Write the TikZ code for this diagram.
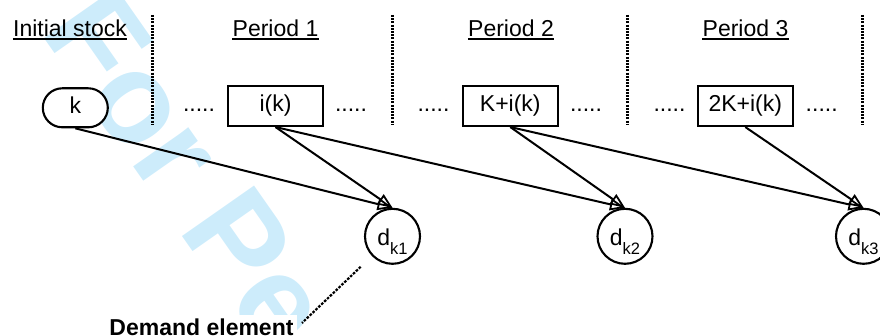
\documentclass[tikz,border=0pt]{standalone}
\usepackage{fontspec}
\setmainfont{Liberation Sans}
\usetikzlibrary{arrows.meta,shapes.misc}
\definecolor{wm}{RGB}{205,236,251}
\begin{document}
\begin{tikzpicture}[x=1pt,y=1pt,
  base/.style={font=\fontsize{23}{27}\selectfont},
  head/.style={base, inner sep=0pt, anchor=base},
  box/.style={base, draw, line width=2.1pt, fill=white, minimum width=95pt, minimum height=40pt, inner sep=0pt, text height=17pt, text depth=5pt},
  stock/.style={base, draw, rounded rectangle, line width=2.1pt, fill=white, minimum width=65pt, minimum height=39pt, inner sep=0pt, text height=17pt, text depth=5pt},
  dem/.style={base, draw, circle, line width=2.1pt, fill=white, minimum size=55pt, inner sep=0pt, text height=22pt, text depth=4pt},
  dots/.style={base, inner sep=0pt, anchor=base},
  sepline/.style={line width=3pt, dash pattern=on 2pt off 1.2pt},
  uline/.style={line width=1.6pt},
  arr/.style={line width=2pt, -{Triangle[open, length=15pt, width=12pt, line width=1.8pt]}},
  note/.style={line width=2.2pt, dash pattern=on 2.6pt off 1.4pt}
]
\useasboundingbox (0,0) rectangle (880,-336);
\begin{scope}
\clip (0,0) rectangle (880,-336);
\node[rotate=-55, anchor=base west, inner sep=0pt, text=wm, font=\fontsize{128}{128}\selectfont\bfseries] (wmark) at (39,-31) {For Pe};
\end{scope}

% headings
\node[head] (h0) at (70,-36.5) {Initial stock};
\node[head] (h1) at (275.5,-36.5) {Period 1};
\node[head] (h2) at (511,-36.5) {Period 2};
\node[head] (h3) at (745.5,-36.5) {Period 3};
\foreach \h in {h0,h1,h2,h3}
  \draw[uline] ([yshift=-2.5pt]\h.base west) -- ([yshift=-2.5pt]\h.base east);

% separators
\foreach \x in {152.7,392.7,627.7,862.7}
  \draw[sepline] (\x,-15) -- (\x,-125);

% nodes
\node[stock] (k) at (75.3,-107.8) {k};
\node[box] (b1) at (275.5,-106) {i(k)};
\node[box] (b2) at (510.3,-106) {K+i(k)};
\node[box] (b3) at (745.3,-106) {2K+i(k)};

\node[dots] (o1) at (199,-111.7) {.....};
\node[dots] (o2) at (351,-111.7) {.....};
\node[dots] (o3) at (433.5,-111.7) {.....};
\node[dots] (o4) at (586,-111.7) {.....};
\node[dots] (o5) at (669.5,-111.7) {.....};
\node[dots] (o6) at (821.7,-111.7) {.....};

\node[dem] (d1) at (392.5,-236.3) {d\raisebox{-9pt}{\fontsize{16.5}{17}\selectfont k1}};
\node[dem] (d2) at (625,-236.3) {d\raisebox{-9pt}{\fontsize{16.5}{17}\selectfont k2}};
\node[dem] (d3) at (863.5,-236.3) {d\raisebox{-9pt}{\fontsize{16.5}{17}\selectfont k3}};

% arrows
\draw[arr] (k.south) -- (d1.north);
\draw[arr] (b1.south) -- (d1.north);
\draw[arr] (b1.south) -- (d2.north);
\draw[arr] (b2.south) -- (d2.north);
\draw[arr] (b2.south) -- (d3.north);
\draw[arr] (b3.south) -- (d3.north);

% demand element
\node[base, font=\fontsize{23}{27}\selectfont\bfseries, fill=white, inner sep=3pt, anchor=base] (demlab) at (201.5,-335) {Demand element};
\coordinate (demend) at (302,-323);
\draw[note, shorten <=15.5pt] (d1) -- (demend);
\end{tikzpicture}
\end{document}
